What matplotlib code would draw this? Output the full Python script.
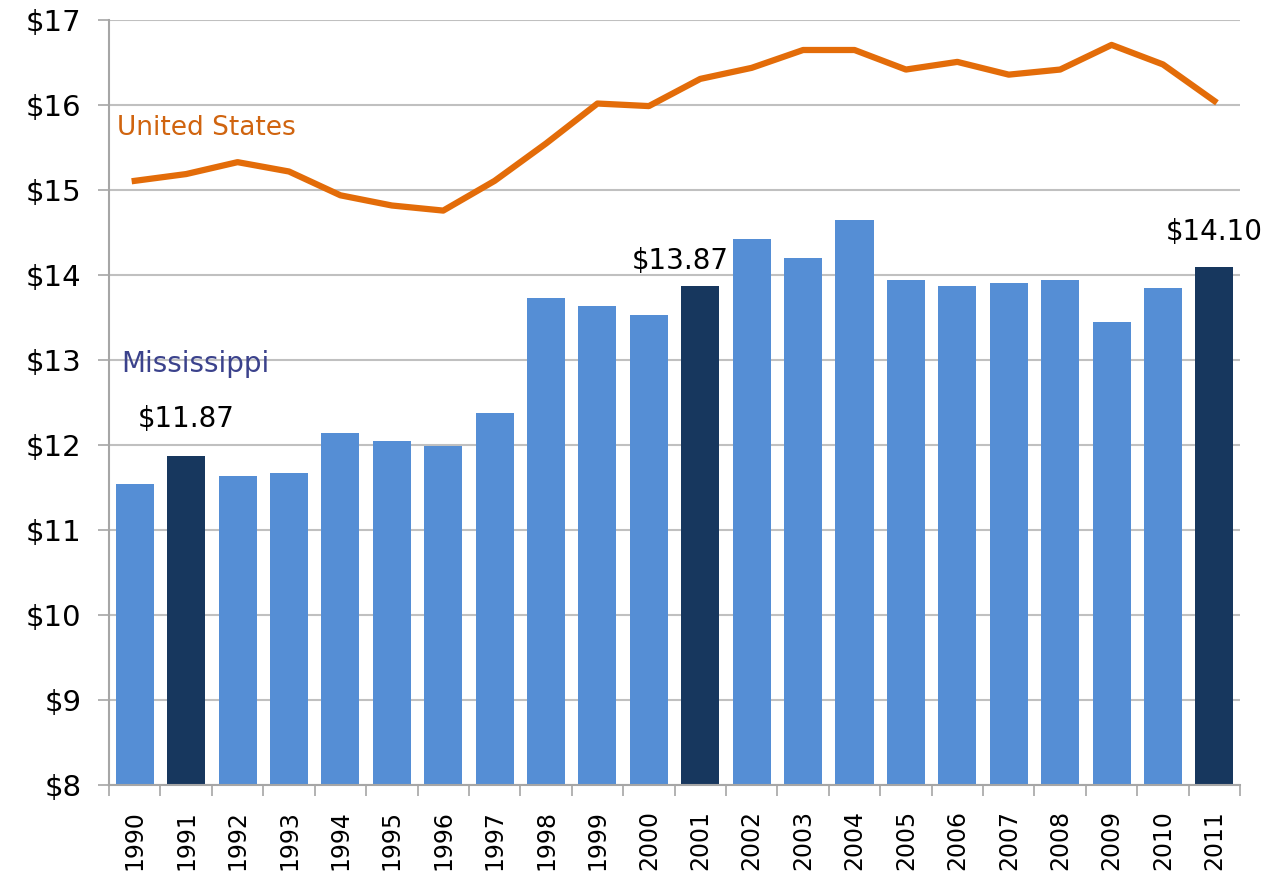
import matplotlib
matplotlib.use("Agg")
import matplotlib.pyplot as plt

years = [str(y) for y in range(1990, 2012)]
mississippi = [11.54, 11.87, 11.64, 11.67, 12.14, 12.05, 11.99, 12.38, 13.73, 13.64,
               13.53, 13.87, 14.42, 14.20, 14.65, 13.94, 13.87, 13.91, 13.94, 13.45,
               13.85, 14.10]
united_states = [15.11, 15.19, 15.33, 15.22, 14.94, 14.82, 14.76, 15.11, 15.55, 16.02,
                 15.99, 16.31, 16.44, 16.65, 16.65, 16.42, 16.51, 16.36, 16.42, 16.71,
                 16.48, 16.05]
highlight = ["1991", "2001", "2011"]

light = "#558ED5"
dark = "#17375E"
orange = "#E36C09"
grey = "#A6A6A6"

plt.rcParams['font.family'] = ['DejaVu Sans']

fig = plt.figure(figsize=(12.68, 8.81), dpi=100)
ax = fig.add_axes([0.086, 0.109, 0.892, 0.868])

x = list(range(len(years)))
colors = [dark if y in highlight else light for y in years]
ax.bar(x, [v - 8 for v in mississippi], bottom=8, width=0.74, color=colors, zorder=2)
ax.plot(x, united_states, color=orange, linewidth=4.5, zorder=3, solid_joinstyle='round')

# value labels on the highlighted bars (x shift, y gap)
label_pos = {"1991": (0.0, 0.27), "2001": (-0.38, 0.13), "2011": (0.0, 0.24)}
for i, y in enumerate(years):
    if y in highlight:
        dx, dy = label_pos[y]
        ax.text(i + dx, mississippi[i] + dy, "$%.2f" % mississippi[i],
                ha='center', va='bottom', fontsize=20, color='black', zorder=4)

ax.text(-0.35, 15.73, "United States", color="#D0640F", fontsize=19, ha='left', va='center')
ax.text(-0.27, 12.96, "Mississippi", color="#3B428C", fontsize=20, ha='left', va='center')

ax.set_xlim(-0.5, len(years) - 0.5)
ax.set_ylim(8, 17)
ax.set_yticks(range(8, 18))
ax.set_yticklabels(["$%d" % v for v in range(8, 18)], fontsize=21)
ax.set_xticks(x)
ax.set_xticklabels(years, rotation=90, fontsize=17)
ax.tick_params(axis='x', length=0, pad=18)
ax.set_xticks([i - 0.5 for i in range(len(years) + 1)], minor=True)
ax.tick_params(axis='x', which='minor', length=8, color=grey, width=1.2)
ax.tick_params(axis='y', length=8, color=grey, width=1.2, pad=12)

ax.grid(axis='y', color="#C0C0C0", linewidth=1.5, zorder=0)
for s in ['top', 'right']:
    ax.spines[s].set_visible(False)
for s in ['left', 'bottom']:
    ax.spines[s].set_color(grey)
    ax.spines[s].set_linewidth(1.5)

fig.savefig("out.png", dpi=100)
